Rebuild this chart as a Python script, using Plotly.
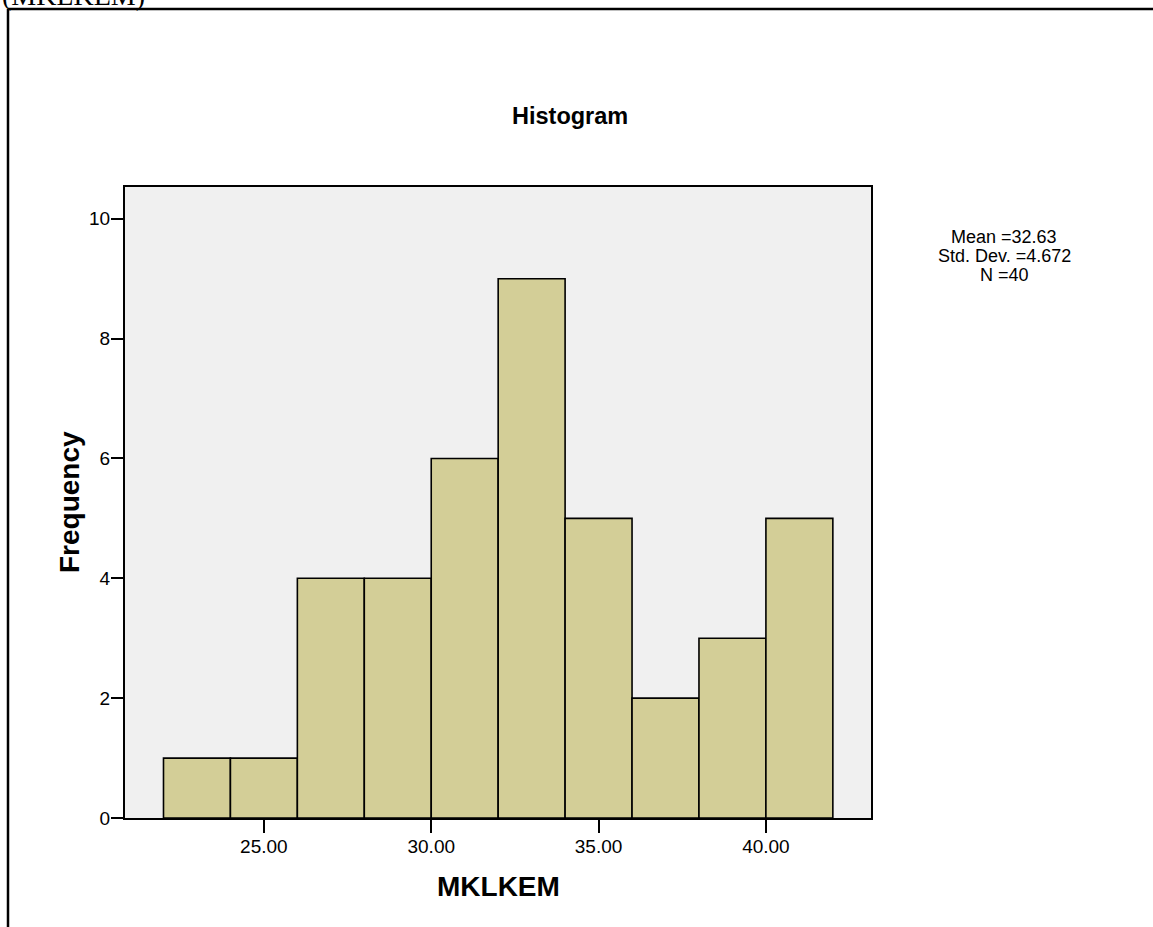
import plotly.graph_objects as go

# Histogram of MKLKEM: bin edges (width 2) and frequency per bin
bin_edges = [22, 24, 26, 28, 30, 32, 34, 36, 38, 40, 42]
frequencies = [1, 1, 4, 4, 6, 9, 5, 2, 3, 5]
x_tick_values = [25, 30, 35, 40]
y_tick_values = [0, 2, 4, 6, 8, 10]
stats_lines = ["Mean =32.63", "Std. Dev. =4.672", "N =40"]

W, H = 1153, 927
L, R, T, B = 125, 871, 187, 818  # plot area in pixels
PW, PH = R - L, B - T


def px(x):
    return (x - L) / PW


def py(y):
    return (B - y) / PH


centers = [(a + b) / 2 for a, b in zip(bin_edges[:-1], bin_edges[1:])]
widths = [b - a for a, b in zip(bin_edges[:-1], bin_edges[1:])]

font = "Arial, Liberation Sans, sans-serif"

fig = go.Figure()
fig.add_trace(go.Bar(
    x=centers, y=frequencies, width=widths,
    marker=dict(color="#d3ce97", line=dict(color="black", width=1.6)),
    showlegend=False, hoverinfo="x+y",
))

annotations = [
    dict(text="<b>Histogram</b>", xref="paper", yref="paper",
         x=px(570), y=py(116), showarrow=False,
         font=dict(size=23.5), xanchor="center", yanchor="middle"),
    dict(text="<b>Frequency</b>", xref="paper", yref="paper",
         x=px(69), y=py(502), showarrow=False, textangle=-90,
         font=dict(size=28), xanchor="center", yanchor="middle"),
    dict(text="<b>MKLKEM</b>", xref="paper", yref="paper",
         x=px(498), y=py(886), showarrow=False,
         font=dict(size=28), xanchor="center", yanchor="middle"),
    dict(text="(MKLKEM)", xref="paper", yref="paper",
         x=px(0), y=py(-4), showarrow=False,
         font=dict(size=28, family="Times New Roman, Liberation Serif, serif"),
         xanchor="left", yanchor="middle"),
]
# descriptive statistics, one line each
for i, line in enumerate(stats_lines):
    annotations.append(dict(
        text=line, xref="paper", yref="paper",
        x=px(1004), y=py(237 + 19 * i), showarrow=False,
        font=dict(size=18), xanchor="center", yanchor="middle"))

fig.update_layout(
    width=W, height=H,
    margin=dict(l=L, r=W - R, t=T, b=H - B),
    paper_bgcolor="white", plot_bgcolor="#f0f0f0",
    font=dict(family=font, color="black"),
    xaxis=dict(
        range=[20.85, 43.14], tickvals=x_tick_values, tickformat=".2f",
        ticks="outside", ticklen=13, tickwidth=2, tickcolor="black",
        tickfont=dict(size=19), ticklabelstandoff=-3,
        showgrid=False, zeroline=False,
        showline=True, linecolor="black", linewidth=2, mirror=True,
    ),
    yaxis=dict(
        range=[0, 10.53], tickvals=y_tick_values,
        ticks="outside", ticklen=12, tickwidth=2, tickcolor="black",
        tickfont=dict(size=19), ticklabelstandoff=-3,
        showgrid=False, zeroline=False,
        showline=True, linecolor="black", linewidth=2, mirror=True,
    ),
    shapes=[
        dict(type="line", xref="paper", yref="paper",
             x0=px(8), x1=px(8), y0=py(940), y1=py(9),
             line=dict(color="black", width=2.5)),
        dict(type="line", xref="paper", yref="paper",
             x0=px(8), x1=px(1170), y0=py(9), y1=py(9),
             line=dict(color="black", width=2.5)),
    ],
    annotations=annotations,
)

fig.write_html("out.html")
